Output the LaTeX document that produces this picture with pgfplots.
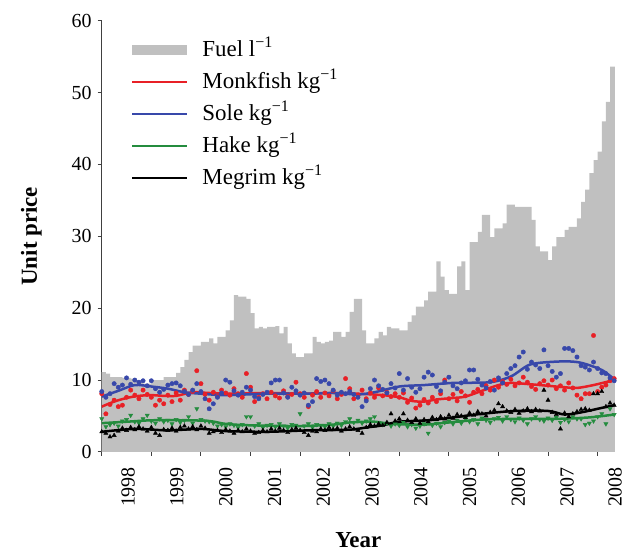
\documentclass[border=0pt]{standalone}
\usepackage{fontspec}
\setmainfont{Liberation Serif}
\usepackage{pgfplots}
\usepackage{pgfplotstable}
\pgfplotsset{compat=1.18}

\definecolor{fuelgray}{RGB}{192,192,192}
\definecolor{monkred}{RGB}{232,32,38}
\definecolor{soleblue}{RGB}{56,72,170}
\definecolor{hakegreen}{RGB}{36,140,62}

% monthly fuel price, month 0 = Jan 1998
\pgfplotstableread{
m v
0 11.1
1 10.9
2 10.4
3 10.4
4 10.4
5 10.3
6 10.3
7 10.2
8 10.0
9 9.7
10 9.5
11 9.5
12 10.0
13 10.0
14 10.0
15 10.4
16 10.4
17 10.4
18 11.0
19 11.8
20 12.8
21 13.9
22 14.8
23 14.8
24 15.3
25 15.3
26 15.8
27 15.1
28 16.0
29 16.0
30 16.9
31 18.3
32 21.8
33 21.6
34 21.6
35 21.3
36 19.3
37 17.2
38 17.4
39 17.2
40 17.4
41 17.4
42 17.5
43 16.5
44 17.4
45 15.1
46 13.7
47 13.2
48 13.2
49 13.7
50 13.7
51 16.0
52 15.3
53 15.1
54 15.3
55 15.5
56 16.7
57 16.7
58 16.0
59 16.7
60 19.5
61 21.3
62 21.3
63 16.9
64 15.1
65 15.1
66 15.8
67 16.7
68 16.2
69 17.4
70 17.2
71 17.2
72 16.9
73 16.9
74 18.1
75 19.0
76 20.2
77 20.2
78 21.1
79 22.3
80 22.3
81 26.5
82 24.4
83 22.5
84 22.0
85 22.0
86 25.8
87 26.5
88 22.5
89 29.2
90 29.2
91 30.6
92 33.0
93 33.0
94 29.9
95 31.1
96 31.1
97 31.8
98 34.4
99 34.4
100 34.1
101 34.1
102 34.1
103 34.1
104 32.3
105 28.6
106 27.9
107 27.9
108 26.7
109 28.6
110 29.9
111 29.9
112 30.9
113 31.3
114 31.3
115 32.5
116 34.8
117 36.5
118 38.8
119 40.6
120 41.8
121 46.0
122 48.7
123 53.6
124 53.6
125 53.6
}\fuel

% monthly fish prices per kg
\pgfplotstableread{
m monk sole hake meg
0 8.1 8.4 4.6 2.8
1 5.3 7.6 3.5 2.6
2 6.6 8.1 3.8 2.1
3 7.2 9.5 4.0 2.3
4 6.3 9.0 3.6 2.9
5 6.5 9.3 4.3 3.3
6 7.6 10.3 4.5 3.0
7 8.6 9.4 5.1 3.4
8 7.9 10.0 4.2 3.1
9 7.4 9.7 4.0 3.5
10 8.6 9.9 4.6 3.2
11 8.0 9.2 5.1 2.9
12 7.6 9.9 4.3 3.4
13 6.5 8.8 4.0 2.6
14 7.2 8.3 4.6 2.3
15 6.7 8.7 4.2 3.1
16 7.9 9.3 4.4 3.0
17 7.0 9.5 3.9 3.3
18 8.2 9.6 4.5 2.9
19 7.2 9.2 4.1 3.4
20 8.6 8.4 4.4 3.6
21 8.0 8.0 4.9 3.2
22 8.4 8.6 4.0 3.5
23 11.3 9.5 6.0 3.1
24 9.5 8.4 4.5 3.6
25 8.0 7.4 4.3 3.3
26 7.2 6.0 4.2 2.6
27 8.3 6.7 4.0 2.8
28 7.7 7.6 3.6 3.0
29 8.6 8.2 3.8 2.7
30 8.2 10.0 3.5 3.1
31 7.9 9.7 3.9 2.9
32 8.8 8.5 3.7 2.6
33 8.1 7.9 3.4 3.0
34 7.6 8.3 3.8 2.8
35 10.9 9.0 4.9 3.2
36 9.0 8.6 4.9 2.9
37 7.0 7.7 3.6 2.6
38 7.6 7.4 3.9 2.7
39 8.1 8.0 3.4 3.0
40 7.4 8.3 3.7 2.8
41 8.3 9.6 3.8 3.2
42 7.8 10.0 3.5 2.9
43 7.5 10.0 3.9 3.3
44 8.5 8.2 3.6 3.0
45 7.7 7.6 3.3 2.7
46 8.0 9.0 3.8 3.1
47 9.7 8.5 3.7 3.3
48 8.1 7.9 5.3 3.0
49 7.6 8.2 3.6 2.7
50 6.3 6.5 3.9 2.3
51 7.9 7.0 3.4 2.9
52 8.4 10.2 3.8 2.8
53 7.6 9.8 3.7 3.2
54 8.2 10.0 3.5 3.0
55 7.8 9.5 3.9 3.4
56 8.5 8.6 3.6 3.1
57 7.4 7.9 4.0 3.3
58 8.0 8.3 3.7 2.9
59 10.2 8.1 4.2 3.2
60 8.8 8.4 4.6 3.5
61 7.4 8.0 4.1 3.2
62 7.9 7.6 4.4 3.0
63 8.6 6.3 4.0 2.6
64 7.4 7.1 4.3 3.4
65 8.2 8.8 4.6 3.8
66 7.6 10.0 4.9 3.6
67 8.9 9.2 4.1 3.9
68 7.8 8.7 3.8 3.7
69 8.3 8.2 4.0 4.1
70 7.7 9.5 3.6 5.3
71 8.1 8.9 3.9 4.3
72 7.6 10.9 3.7 4.6
73 8.2 8.6 4.1 5.3
74 6.9 10.2 3.5 4.4
75 7.5 9.0 3.8 4.1
76 6.1 8.3 3.3 4.6
77 6.5 8.8 3.6 4.0
78 7.3 10.4 3.9 4.5
79 6.8 11.1 2.6 4.2
80 7.6 10.7 3.7 4.8
81 7.0 9.1 4.0 4.5
82 8.1 8.5 3.5 4.9
83 10.0 9.7 4.1 4.6
84 7.4 10.4 4.3 5.1
85 8.0 9.2 3.9 4.7
86 7.1 8.8 4.4 5.2
87 8.4 9.6 4.0 5.0
88 7.8 9.9 4.6 4.8
89 6.9 11.4 4.2 5.4
90 8.3 11.4 4.5 5.1
91 8.7 10.1 3.9 5.6
92 8.1 9.3 4.7 5.3
93 9.2 8.9 4.4 5.0
94 8.6 9.8 4.1 5.5
95 10.0 8.6 4.6 5.8
96 9.0 10.3 4.8 6.7
97 9.8 9.6 4.3 6.3
98 9.4 10.9 4.9 5.7
99 10.1 11.6 4.5 5.5
100 9.2 12.0 4.2 5.9
101 9.6 13.2 4.7 5.4
102 10.4 13.9 4.4 5.7
103 9.7 11.5 3.9 6.0
104 9.1 12.5 4.6 5.6
105 8.7 12.1 4.9 5.9
106 9.5 11.6 4.5 5.7
107 9.9 14.2 4.3 8.6
108 9.3 12.0 4.7 7.2
109 10.0 11.2 4.4 5.5
110 8.8 10.4 4.8 5.2
111 9.2 10.9 4.1 3.2
112 8.6 14.4 4.5 5.4
113 9.6 14.4 4.2 4.9
114 8.9 14.1 4.9 5.3
115 7.9 13.2 4.6 5.6
116 7.4 12.0 4.6 5.9
117 8.1 11.8 3.8 6.0
118 8.1 11.4 4.0 5.8
119 16.2 12.5 4.3 8.1
120 8.4 11.6 4.9 8.1
121 9.0 11.0 5.3 8.4
122 9.3 10.9 3.9 6.3
123 9.9 10.3 6.0 6.8
124 10.2 9.9 5.2 6.5
}\fish

\begin{document}
\begin{tikzpicture}
\begin{axis}[
    scale only axis,
    width=513bp, height=431bp,
    xmin=0, xmax=124.2,
    ymin=0, ymax=60,
    axis lines*=left,
    axis line style={line width=0.9bp, black!75},
    tick align=outside,
    major tick length=4bp,
    tick style={line width=0.9bp, black!75},
    xtick={0,12,...,120},
    xticklabels={},
    extra x ticks={6.4,18.2,30.0,41.8,53.6,65.4,77.2,89.0,100.8,112.6,124.2},
    extra x tick labels={1998,1999,2000,2001,2002,2003,2004,2005,2006,2007,2008},
    extra x tick style={major tick length=0pt},
    xticklabel style={rotate=90, anchor=east, inner xsep=15bp},
    ytick={0,10,...,60},
    yticklabel style={inner xsep=6bp},
    /pgf/number format/assume math mode=true,
    ticklabel style={font=\fontsize{20}{20}\selectfont},
    xlabel={Year}, ylabel={Unit price},
    label style={font=\fontsize{23}{23}\selectfont\bfseries, inner sep=0pt},
    xlabel style={at={(rel axis cs:0.5,-0.205)}, anchor=center},
    ylabel style={at={(rel axis cs:-0.137,0.5)}, anchor=center},
    legend cell align=left,
    legend style={draw=none, fill=none, at={(rel axis cs:0,1)}, anchor=north west,
        xshift=29bp, yshift=-16bp, inner sep=0pt, row sep=6bp,
        font=\fontsize{23}{23}\selectfont,
        nodes={inner sep=1bp, text height=19bp, text depth=5bp}},
    legend image code/.code={\draw[#1, line width=2.5bp] (0bp,0bp) -- (55bp,0bp); \path (68bp,0bp);},
]
\coordinate (bl) at (rel axis cs:0,0);
\coordinate (tr) at (rel axis cs:1,1);

\addplot[const plot, fill=fuelgray, draw=none,
    legend image code/.code={\fill[fuelgray] (0bp,-5bp) rectangle (55bp,5bp); \path (68bp,0bp);}]
    table[x=m, y=v] {\fuel} \closedcycle;
\addlegendentry{Fuel l\textsuperscript{−1}}

% monthly points
\addplot[only marks, mark=*, mark size=2.2bp, monkred, forget plot] table[x=m, y=monk] {\fish};
\addplot[only marks, mark=*, mark size=2.2bp, soleblue, forget plot] table[x=m, y=sole] {\fish};
\addplot[only marks, mark=triangle*, mark size=2.4bp, hakegreen, forget plot,
    mark options={rotate=180}] table[x=m, y=hake] {\fish};
\addplot[only marks, mark=triangle*, mark size=2.4bp, black, forget plot] table[x=m, y=meg] {\fish};

% smoothed trends
\addplot[monkred, line width=2.5bp, smooth] coordinates {
(0,6.3) (3,7.0) (6,7.5) (9,7.8) (12,7.9) (15,7.8) (18,7.8) (22,8.3) (26,8.2)
(32,8.1) (40,8.2) (48,8.1) (56,8.2) (62,8.1) (68,7.9) (72,7.6) (75,7.1) (78,7.0)
(81,7.3) (85,7.5) (88,7.7) (92,8.5) (96,9.3) (99,9.6) (104,9.4) (108,9.2)
(112,9.0) (115,8.9) (119,9.3) (124,10.0)};
\addlegendentry{Monkfish kg\textsuperscript{−1}}

\addplot[soleblue, line width=2.5bp, smooth] coordinates {
(0,7.7) (4,8.5) (8,9.3) (12,9.1) (16,8.8) (20,8.3) (24,8.1) (30,7.9) (40,8.1)
(50,8.1) (56,8.2) (62,8.0) (66,8.3) (72,9.1) (78,9.3) (85,9.6) (94,9.7)
(99,10.5) (103,12.0) (106,12.4) (112,12.6) (116,12.4) (121,11.4) (124,10.1)};
\addlegendentry{Sole kg\textsuperscript{−1}}

\addplot[hakegreen, line width=2.5bp, smooth] coordinates {
(0,4.0) (6,4.2) (12,4.4) (20,4.4) (26,4.3) (30,3.9) (36,3.7) (48,3.6) (56,3.8)
(60,4.1) (66,4.2) (70,3.9) (78,3.8) (84,4.1) (92,4.5) (100,4.6) (110,4.6)
(118,4.8) (124,5.2)};
\addlegendentry{Hake kg\textsuperscript{−1}}

\addplot[black, line width=2.5bp, smooth] coordinates {
(0,2.8) (8,3.2) (16,3.0) (24,3.2) (30,2.9) (40,2.8) (50,3.0) (60,3.1) (64,3.4)
(68,3.7) (72,4.2) (79,4.4) (85,4.8) (92,5.3) (100,5.7) (108,5.7) (112,5.2)
(116,5.5) (120,6.0) (124,6.5)};
\addlegendentry{Megrim kg\textsuperscript{−1}}
\end{axis}
\pgfresetboundingbox
\path[use as bounding box] ([xshift=-101.7bp,yshift=-101.3bp]bl) rectangle ([xshift=15bp,yshift=20.7bp]tr);
\end{tikzpicture}
\end{document}
